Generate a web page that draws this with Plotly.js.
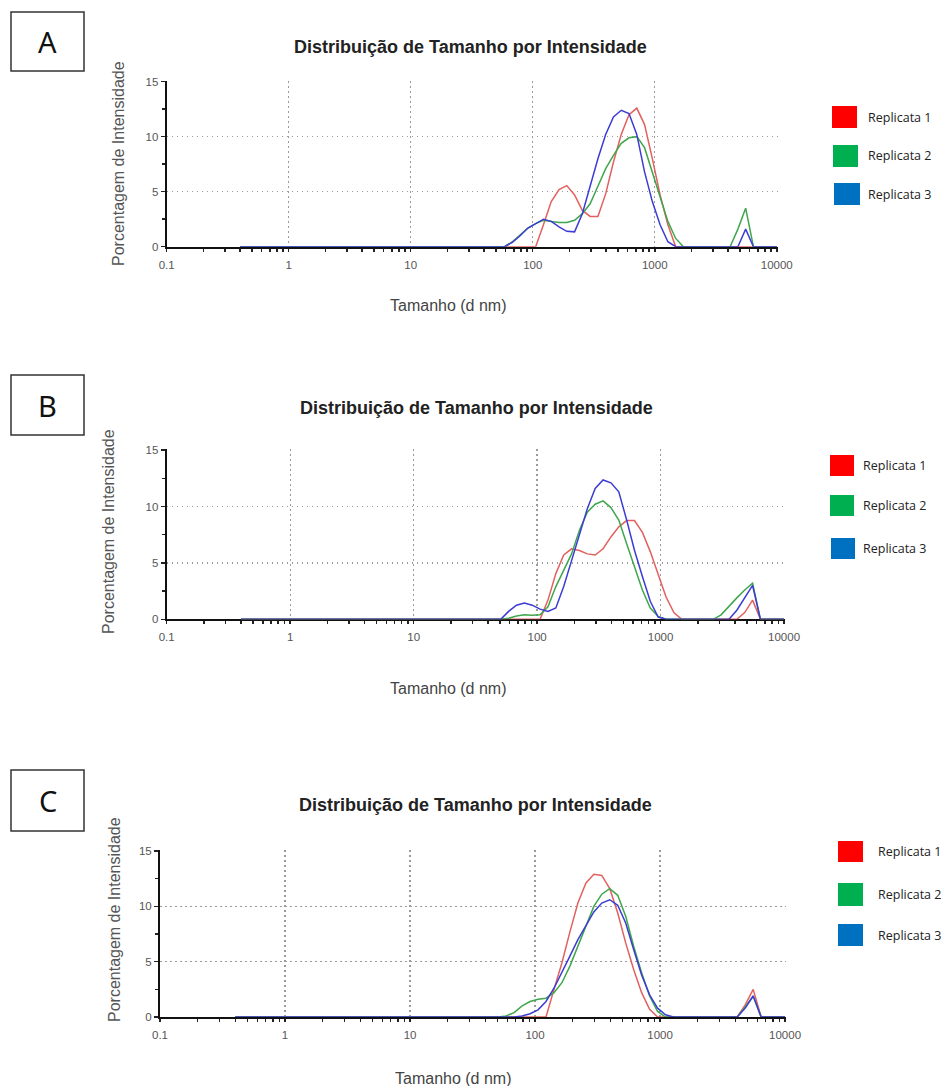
<!DOCTYPE html>
<html><head><meta charset="utf-8">
<script src="https://cdn.plot.ly/plotly-3.0.1.min.js"></script>
<style>html,body{margin:0;padding:0;background:#fff}#chart{width:943px;height:1086px}</style>
</head><body><div id="chart"></div>
<script>
// Size bins (d nm)
const sizes = [0.4,0.4632,0.5365,0.6213,0.7195,0.8332,0.9649,1.117,1.294,1.499,
1.736,2.01,2.328,2.696,3.122,3.615,4.187,4.849,5.615,6.503,
7.531,8.721,10.1,11.7,13.54,15.69,18.17,21.04,24.36,28.21,
32.67,37.84,43.82,50.75,58.77,68.06,78.82,91.28,105.7,122.4,
141.8,164.2,190.1,220.2,255.0,295.3,342.0,396.1,458.7,531.2,
615.1,712.4,825.0,955.4,1106,1281,1484,1718,1990,2305,
2669,3091,3580,4145,4801,5560,6439,7456,8635,10000];

const seriesNames = ['Replicata 1','Replicata 2','Replicata 3'];
const panelLetters = ['A','B','C'];
const chartTitle = 'Distribuição de Tamanho por Intensidade';
const xTitle = 'Tamanho (d nm)';
const yTitle = 'Porcentagem de Intensidade';
const xTickVals = [0.1,1,10,100,1000,10000];
const xTickText = ['0.1','1','10','100','1000','10000'];
const yTickVals = [0,5,10,15];

// Panel A
const A_rep1 = [0,0,0,0,0,0,0,0,0,0, 0,0,0,0,0,0,0,0,0,0, 0,0,0,0,0,0,0,0,0,0,
0,0,0,0,0,0,0,0,0,2.0, 4.1,5.2,5.55,4.7,3.3,2.75,2.75,4.8,7.7,10.2,
12.0,12.6,11.1,8.0,4.7,2.0,0,0,0,0, 0,0,0,0,0,0,0,0,0,0];
const A_rep2 = [0,0,0,0,0,0,0,0,0,0, 0,0,0,0,0,0,0,0,0,0, 0,0,0,0,0,0,0,0,0,0,
0,0,0,0,0,0.45,1.05,1.7,2.1,2.4, 2.3,2.2,2.2,2.4,3.0,3.9,5.5,7.1,8.3,9.4,
9.9,10.0,9.0,6.8,4.4,2.3,0.75,0,0,0, 0,0,0,0,1.6,3.5,0,0,0,0];
const A_rep3 = [0,0,0,0,0,0,0,0,0,0, 0,0,0,0,0,0,0,0,0,0, 0,0,0,0,0,0,0,0,0,0,
0,0,0,0,0,0.4,1.0,1.7,2.1,2.5, 2.3,1.8,1.4,1.35,3.0,5.6,8.0,10.2,11.8,12.4,
12.1,10.2,6.8,4.1,2.0,0.45,0,0,0,0, 0,0,0,0,0,1.6,0,0,0,0];

// Panel B
const B_rep1 = [0,0,0,0,0,0,0,0,0,0, 0,0,0,0,0,0,0,0,0,0, 0,0,0,0,0,0,0,0,0,0,
0,0,0,0,0,0,0,0,0,1.7, 4.05,5.7,6.25,6.1,5.8,5.7,6.25,7.3,8.2,8.75,
8.75,7.7,6.0,4.0,2.0,0.6,0,0,0,0, 0,0,0,0,0.6,1.7,0,0,0,0];
const B_rep2 = [0,0,0,0,0,0,0,0,0,0, 0,0,0,0,0,0,0,0,0,0, 0,0,0,0,0,0,0,0,0,0,
0,0,0,0,0.1,0.3,0.4,0.35,0.4,1.1, 2.9,4.35,5.8,7.9,9.5,10.2,10.5,9.9,8.8,6.7,
4.65,2.6,1.0,0.25,0,0,0,0,0,0, 0,0.4,1.2,1.9,2.6,3.2,0,0,0,0];
const B_rep3 = [0,0,0,0,0,0,0,0,0,0, 0,0,0,0,0,0,0,0,0,0, 0,0,0,0,0,0,0,0,0,0,
0,0,0,0,0.7,1.25,1.45,1.25,0.9,0.7, 1.0,2.9,5.2,7.6,9.8,11.6,12.35,12.1,11.3,8.8,
6.1,3.8,1.6,0.2,0,0,0,0,0,0, 0,0,0,0.8,1.9,3.0,0,0,0,0];

// Panel C
const C_rep1 = [0,0,0,0,0,0,0,0,0,0, 0,0,0,0,0,0,0,0,0,0, 0,0,0,0,0,0,0,0,0,0,
0,0,0,0,0,0,0,0,0,0, 2.5,4.9,7.7,10.3,12.1,12.9,12.8,11.6,9.4,6.7,
4.3,2.2,0.7,0,0,0,0,0,0,0, 0,0,0,0,1.1,2.5,0,0,0,0];
const C_rep2 = [0,0,0,0,0,0,0,0,0,0, 0,0,0,0,0,0,0,0,0,0, 0,0,0,0,0,0,0,0,0,0,
0,0,0,0,0.1,0.4,1.0,1.4,1.6,1.7, 2.2,3.1,4.6,6.4,8.3,10.0,11.1,11.6,11.0,9.1,
6.4,4.0,1.9,0.5,0,0,0,0,0,0, 0,0,0,0,0.9,1.9,0,0,0,0];
const C_rep3 = [0,0,0,0,0,0,0,0,0,0, 0,0,0,0,0,0,0,0,0,0, 0,0,0,0,0,0,0,0,0,0,
0,0,0,0,0,0,0.1,0.3,0.65,1.4, 2.6,4.0,5.5,7.0,8.3,9.5,10.3,10.6,10.1,8.5,
6.1,3.8,2.0,0.8,0.2,0,0,0,0,0, 0,0,0,0,0.8,1.9,0,0,0,0];

const panelData = [[A_rep1,A_rep2,A_rep3],[B_rep1,B_rep2,B_rep3],[C_rep1,C_rep2,C_rep3]];

const lineColors = ['#e2615e','#3fa64c','#3c3cd4'];
const swatchColors = ['#ff0000','#00b050','#0070c0'];

const W = 943, H = 1086;
const px = x => x / W, py = y => 1 - y / H;

// plot area pixel boxes [x0,x1,yTop,yBottom]
const boxes = [[166.7,777.5,81,246.7],[166.7,784.8,449.4,619.3],[160,785.8,850.4,1017]];
const titleY = [47,408,805];
const titleX = [470,476,475];
const yLab = [[118,164],[108,532],[115,920]];
const xLab = [[448,305],[448,688],[453,1078]];
const letterBox = [[11,84,12,71],[11,84,375,435],[11,84,770,831]];
const legendSq = [
  [[832,857,106,128],[833,858,145,167],[834,860,183,205]],
  [[830,854,455,476],[830,854,495,516],[831,855,538,559]],
  [[838,863,841,862],[838,863,883,906],[838,863,924,946]]];
const legendTx = [[866,[117,156,194]],[861,[465,505,548]],[876,[851,894,935]]];

const minorX = [];
[0.1,1,10,100,1000].forEach(d => { for (let k = 2; k <= 9; k++) minorX.push(+(d*k).toPrecision(3)); });

const traces = [];
const layout = {
  width: W, height: H, margin: {l:0,r:0,t:0,b:0},
  paper_bgcolor: '#fff', plot_bgcolor: '#fff', showlegend: false,
  font: {family: 'Liberation Sans, Arial, sans-serif', color: '#444'},
  shapes: [], annotations: []
};

panelData.forEach((series, p) => {
  const sfx = p === 0 ? '' : String(p + 1);
  series.forEach((vals, s) => {
    traces.push({
      type: 'scatter', mode: 'lines', x: sizes, y: vals, name: seriesNames[s],
      xaxis: 'x' + sfx, yaxis: 'y' + sfx,
      line: {color: lineColors[s], width: 1.5}, hoverinfo: 'x+y'
    });
  });
  const b = boxes[p];
  layout['xaxis' + sfx] = {
    type: 'log', range: [-1, 4.006], domain: [px(b[0]), px(b[1])], anchor: 'y' + sfx,
    tickmode: 'array', tickvals: xTickVals, ticktext: xTickText,
    ticks: 'outside', ticklen: 3, tickcolor: '#222', tickwidth: 1.5,
    tickfont: {size: 11.5, color: '#555'}, ticklabelstandoff: 3,
    minor: {tickmode: 'array', tickvals: minorX, ticks: 'outside', ticklen: 3, tickcolor: '#222', tickwidth: 1.5, showgrid: false},
    showline: true, linecolor: '#111', linewidth: 2,
    showgrid: true, gridcolor: '#9a9a9a', griddash: '1.5px,3.5px', gridwidth: 1.3,
    zeroline: false, layer: 'below traces', fixedrange: true
  };
  layout['yaxis' + sfx] = {
    range: [0, 15.06], domain: [py(b[3]), py(b[2])], anchor: 'x' + sfx,
    tickmode: 'array', tickvals: yTickVals,
    ticks: 'outside', ticklen: 4, tickcolor: '#222', tickwidth: 1.5,
    tickfont: {size: 11.5, color: '#555'},
    minor: {tickmode: 'array', tickvals: [2.5,7.5,12.5], ticks: 'outside', ticklen: 3, tickcolor: '#222', tickwidth: 1.5, showgrid: false},
    showline: true, linecolor: '#111', linewidth: 2,
    showgrid: true, gridcolor: '#9a9a9a', griddash: '1.5px,3.5px', gridwidth: 1.3,
    zeroline: false, layer: 'below traces', fixedrange: true
  };
  // titles
  layout.annotations.push({xref:'paper', yref:'paper', x: px(titleX[p]), y: py(titleY[p]), text: '<b>' + chartTitle + '</b>',
    showarrow: false, xanchor: 'center', yanchor: 'middle', font: {size: 18, color: '#222'}});
  layout.annotations.push({xref:'paper', yref:'paper', x: px(yLab[p][0]), y: py(yLab[p][1]), text: yTitle, textangle: -90,
    showarrow: false, xanchor: 'center', yanchor: 'middle', font: {size: 16, color: '#555'}});
  layout.annotations.push({xref:'paper', yref:'paper', x: px(xLab[p][0]), y: py(xLab[p][1]), text: xTitle,
    showarrow: false, xanchor: 'center', yanchor: 'middle', font: {size: 16, color: '#444'}});
  // letter box
  const lb = letterBox[p];
  layout.shapes.push({type:'rect', xref:'paper', yref:'paper', x0: px(lb[0]), x1: px(lb[1]), y0: py(lb[3]), y1: py(lb[2]),
    line: {color: '#333', width: 1.5}, fillcolor: 'rgba(0,0,0,0)'});
  layout.annotations.push({xref:'paper', yref:'paper', x: px((lb[0]+lb[1])/2), y: py((lb[2]+lb[3])/2), text: panelLetters[p],
    showarrow: false, xanchor: 'center', yanchor: 'middle', font: {family: 'Noto Sans, sans-serif', size: 29, color: '#111'}});
  // legend
  legendSq[p].forEach((sq, s) => {
    layout.shapes.push({type:'rect', xref:'paper', yref:'paper', x0: px(sq[0]), x1: px(sq[1]), y0: py(sq[3]), y1: py(sq[2]),
      line: {width: 0}, fillcolor: swatchColors[s]});
    layout.annotations.push({xref:'paper', yref:'paper', x: px(legendTx[p][0]), y: py(legendTx[p][1][s]), text: seriesNames[s],
      showarrow: false, xanchor: 'left', yanchor: 'middle', font: {family: 'Open Sans, sans-serif', size: 12.5, color: '#222'}});
  });
});

Plotly.newPlot('chart', traces, layout, {displayModeBar: false, staticPlot: true});
</script>
</body></html>
